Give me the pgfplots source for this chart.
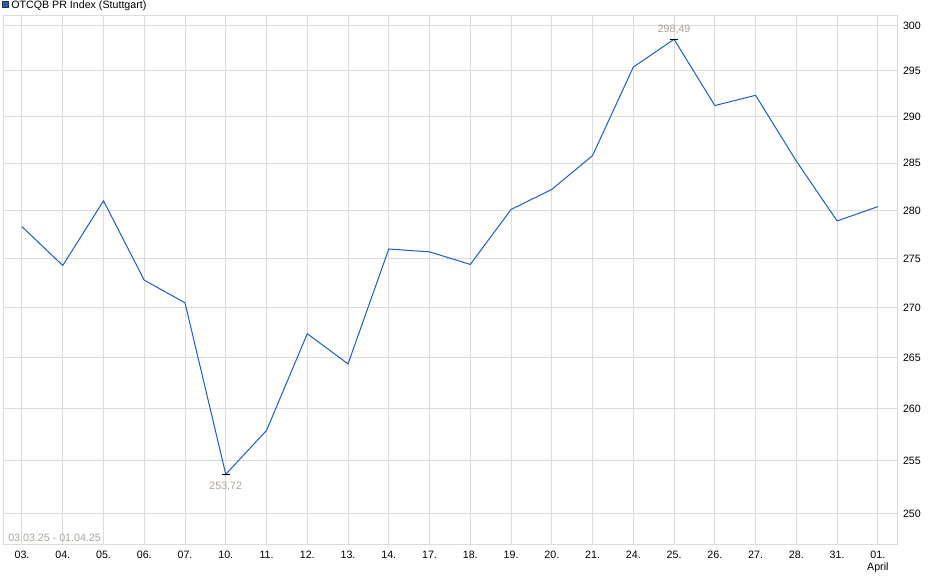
\documentclass[border=0pt]{standalone}
\usepackage{pgfplots}
\pgfplotsset{compat=1.18}
\usepackage{fontspec}
\setmainfont{Liberation Sans}
\definecolor{linecol}{HTML}{1A5DC4}
\definecolor{gridcol}{HTML}{DCDCDC}
\definecolor{notecol}{HTML}{A9A29A}
\begin{document}
\begin{tikzpicture}
\path[use as bounding box] (-2.25pt,-25.5pt) rectangle (702.75pt,408.75pt);
\begin{axis}[
  at={(0,0)}, anchor=south west,
  scale only axis,
  width=670.5pt, height=396.75pt,
  xmin=-0.466, xmax=21.47,
  ymode=log,
  ymin=247.12, ymax=301.12,
  xtick={0,...,21},
  xticklabels={03.,04.,05.,06.,07.,10.,11.,12.,13.,14.,17.,18.,19.,20.,21.,24.,25.,26.,27.,28.,31.,{01.\\April}},
  ytick={250,255,260,265,270,275,280,285,290,295,300},
  yticklabels={250,255,260,265,270,275,280,285,290,295,300},
  yticklabel pos=right,
  major tick length=0pt,
  grid=major,
  major grid style={gridcol, line width=0.75pt},
  axis line style={gridcol, line width=0.75pt},
  tick style={draw=none},
  every tick label/.append style={font=\fontsize{8}{9.5}\selectfont, text=black},
  xticklabel style={align=center, yshift=-1pt},
  yticklabel style={anchor=west, xshift=1pt},
  /pgf/number format/assume math mode=true,
  legend style={draw=none, fill=none, at={(0,1)}, anchor=south west,
    inner xsep=0pt, inner ysep=0pt, xshift=-1pt, yshift=2pt,
    font=\fontsize{8}{9.5}\selectfont, nodes={inner xsep=2pt}},
  legend image code/.code={\draw[fill=linecol, draw=black!80, line width=0.5pt] (0pt,-1.5pt) rectangle (4.5pt,3pt);},
  clip=false,
]
\addplot[linecol, line width=0.75pt, mark=none] coordinates {
  (0,278.3) (1,274.3) (2,281.0) (3,272.8) (4,270.5) (5,253.72)
  (6,257.9) (7,267.4) (8,264.4) (9,276.0) (10,275.7) (11,274.4)
  (12,280.1) (13,282.2) (14,285.8) (15,295.4) (16,298.49) (17,291.2)
  (18,292.3) (19,285.2) (20,278.9) (21,280.4)
};
\addlegendentry{OTCQB PR Index (Stuttgart)}
\addplot[black, only marks, mark=-, mark size=3pt, mark options={line width=0.75pt},
  nodes near coords={253,72},
  every node near coord/.style={anchor=north, text=notecol, yshift=-2pt,
    font=\fontsize{8}{9.5}\selectfont}, forget plot] coordinates {(5,253.72)};
\addplot[black, only marks, mark=-, mark size=3pt, mark options={line width=0.75pt},
  nodes near coords={298,49},
  every node near coord/.style={anchor=south, text=notecol, yshift=0pt,
    font=\fontsize{8}{9.5}\selectfont}, forget plot] coordinates {(16,298.49)};
\node[anchor=base west, text=notecol, font=\fontsize{8}{9.5}\selectfont, inner sep=0pt]
  at ([xshift=3.75pt, yshift=2.5pt]rel axis cs:0,0) {03.03.25 - 01.04.25};
\end{axis}
\end{tikzpicture}
\end{document}
